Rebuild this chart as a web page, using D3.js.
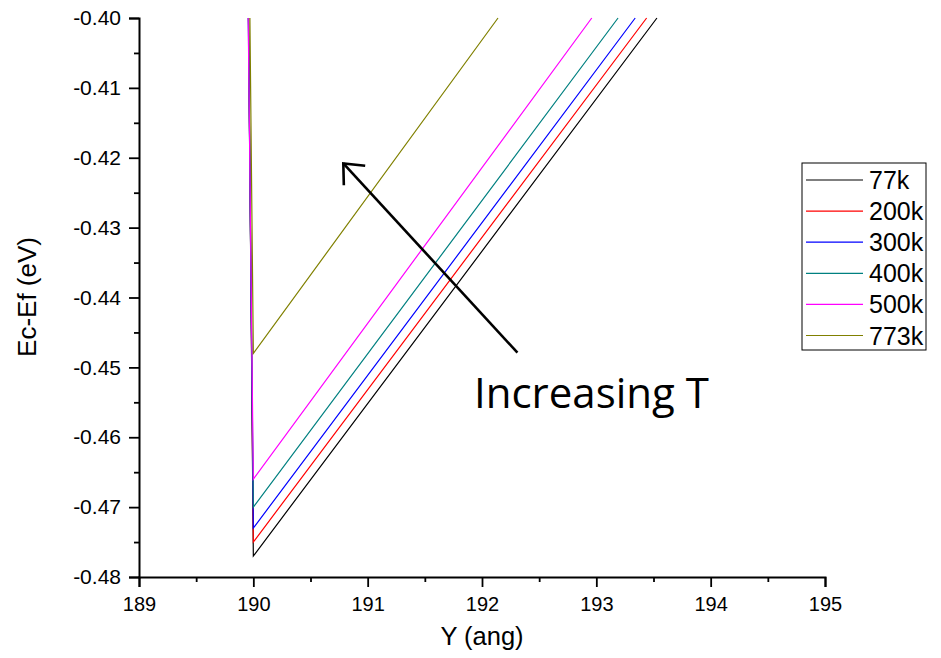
<!DOCTYPE html>
<html>
<head>
<meta charset="utf-8">
<script src="https://cdn.jsdelivr.net/npm/d3@7"></script>
<style>
  body { margin: 0; background: #fff; }
  svg { display: block; }
  .axis text { font-family: "Liberation Sans", Arial, sans-serif; fill: #000; }
</style>
</head>
<body>
<svg id="chart" width="941" height="658"></svg>
<script>
// ---- data ----
const seriesNames = ["77k", "200k", "300k", "400k", "500k", "773k"];
const seriesColors = ["#000000", "#ff0000", "#0000ff", "#008080", "#ff00ff", "#808000"];
// x (Y, ang) of the steep segment where it leaves the top of the plot
const steepTopX = [189.958, 189.958, 189.957, 189.956, 189.955, 189.970];
// x of the minimum (vertex)
const vertexX = [190.0, 190.0, 190.0, 190.0, 190.0, 190.0];
// minimum Ec-Ef (eV)
const minE = [-0.477, -0.475, -0.473, -0.470, -0.466, -0.448];
// x where the rising branch reaches -0.40 eV
const riseTopX = [193.53, 193.44, 193.34, 193.19, 192.96, 192.14];
const topE = -0.40;

const xTicks = [189, 190, 191, 192, 193, 194, 195];
const xMinorTicks = [189.5, 190.5, 191.5, 192.5, 193.5, 194.5];
const yTicks = [-0.40, -0.41, -0.42, -0.43, -0.44, -0.45, -0.46, -0.47, -0.48];
const yMinorTicks = [-0.405, -0.415, -0.425, -0.435, -0.445, -0.455, -0.465, -0.475];

const arrowTail = [192.31, -0.4479];
const arrowHead = [190.787, -0.4208];
const annotationText = "Increasing T";
const annotationPos = [191.93, -0.4558];

// ---- layout ----
const svg = d3.select("#chart");
const mLeft = 139, mRight = 825, mTop = 18, mBottom = 577;

const x = d3.scaleLinear().domain([189, 195]).range([mLeft, mRight]);
const y = d3.scaleLinear().domain([-0.48, -0.40]).range([mBottom, mTop]);

svg.append("defs").append("clipPath").attr("id", "clip")
  .append("rect").attr("x", mLeft).attr("y", mTop - 1).attr("width", mRight - mLeft).attr("height", mBottom - mTop + 1);

// ---- lines ----
const line = d3.line().x(d => x(d[0])).y(d => y(d[1]));
const gLines = svg.append("g").attr("clip-path", "url(#clip)");
seriesNames.forEach((name, i) => {
  const pts = [[steepTopX[i], topE], [vertexX[i], minE[i]], [riseTopX[i], topE]];
  gLines.append("path")
    .attr("d", line(pts))
    .attr("fill", "none")
    .attr("stroke", seriesColors[i])
    .attr("stroke-width", 1.2);
});

// ---- axes ----
const xAxis = svg.append("g").attr("class", "axis").attr("transform", `translate(0,${mBottom})`)
  .call(d3.axisBottom(x).tickValues(xTicks).tickFormat(d3.format("d")).tickSize(10).tickPadding(10));
const xMinor = svg.append("g").attr("transform", `translate(0,${mBottom})`)
  .call(d3.axisBottom(x).tickValues(xMinorTicks).tickFormat("").tickSize(5));
const yAxis = svg.append("g").attr("class", "axis").attr("transform", `translate(${mLeft},0)`)
  .call(d3.axisLeft(y).tickValues(yTicks).tickFormat(d3.format(".2f")).tickSize(10).tickPadding(8));
const yMinor = svg.append("g").attr("transform", `translate(${mLeft},0)`)
  .call(d3.axisLeft(y).tickValues(yMinorTicks).tickFormat("").tickSize(5));

xAxis.selectAll("text").style("font-size", "20px");
yAxis.selectAll("text").style("font-size", "21px");

[xAxis, xMinor, yAxis, yMinor].forEach(g => {
  g.select(".domain").attr("stroke", "#000").attr("stroke-width", 2);
  g.selectAll(".tick line").attr("stroke", "#000").attr("stroke-width", 1.8);
});
yAxis.selectAll("text").text(d => d3.format(".2f")(d).replace("−", "-"));
xMinor.select(".domain").remove();
yMinor.select(".domain").remove();

// axis titles
svg.append("text")
  .attr("x", 482).attr("y", 645)
  .attr("text-anchor", "middle")
  .style("font-family", "'Liberation Sans', Arial, sans-serif").style("font-size", "25.5px")
  .text("Y (ang)");
svg.append("text")
  .attr("transform", `translate(36,297) rotate(-90)`)
  .attr("text-anchor", "middle")
  .style("font-family", "'Liberation Sans', Arial, sans-serif").style("font-size", "26px")
  .text("Ec-Ef (eV)");

// ---- legend ----
const lg = svg.append("g");
lg.append("rect").attr("x", 802).attr("y", 163).attr("width", 124).attr("height", 187)
  .attr("fill", "#fff").attr("stroke", "#000").attr("stroke-width", 1);
seriesNames.forEach((name, i) => {
  const cy = 180 + i * 31.1;
  lg.append("line").attr("x1", 806).attr("x2", 863).attr("y1", cy).attr("y2", cy)
    .attr("stroke", seriesColors[i]).attr("stroke-width", 1.2);
  lg.append("text").attr("x", 869).attr("y", cy + 9)
    .style("font-family", "'Liberation Sans', Arial, sans-serif").style("font-size", "25px")
    .text(name);
});

// ---- annotation arrow ----
const tx = x(arrowTail[0]), ty = y(arrowTail[1]);
const hx = x(arrowHead[0]), hy = y(arrowHead[1]);
svg.append("line").attr("x1", tx).attr("y1", ty).attr("x2", hx).attr("y2", hy)
  .attr("stroke", "#000").attr("stroke-width", 2.6);
const ang = Math.atan2(ty - hy, tx - hx);
const wing = 22, spread = 0.72;
const w1 = [hx + wing * Math.cos(ang - spread), hy + wing * Math.sin(ang - spread)];
const w2 = [hx + wing * Math.cos(ang + spread), hy + wing * Math.sin(ang + spread)];
svg.append("path")
  .attr("d", `M${w1[0]},${w1[1]} L${hx},${hy} L${w2[0]},${w2[1]}`)
  .attr("fill", "none").attr("stroke", "#000").attr("stroke-width", 2.6)
  .attr("stroke-linejoin", "miter");

svg.append("text")
  .attr("x", x(annotationPos[0])).attr("y", y(annotationPos[1]))
  .style("font-family", "'Open Sans', sans-serif").style("font-size", "42px")
  .text(annotationText);
</script>
</body>
</html>
